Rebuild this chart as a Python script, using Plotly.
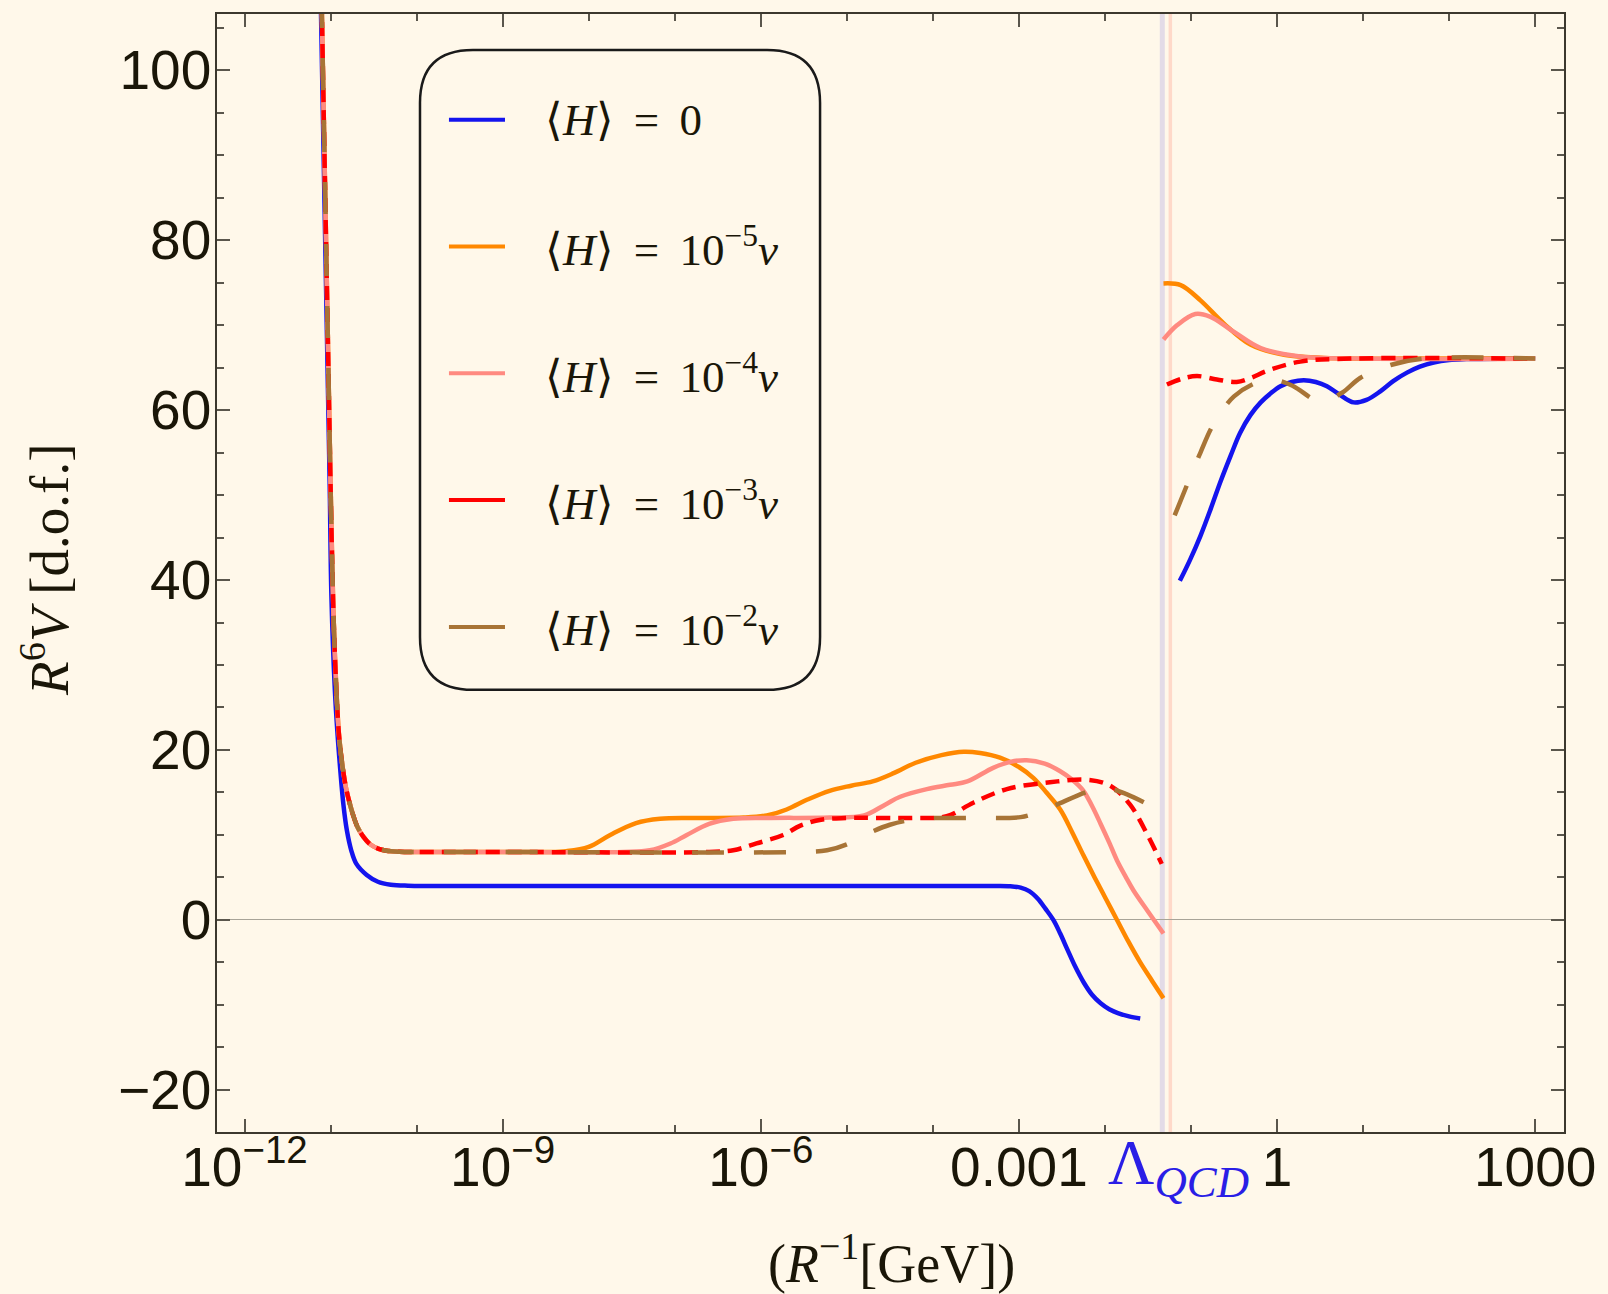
import numpy as np
import plotly.graph_objects as go

# ---------------- data (x given as log10 of R^-1 in GeV) ----------------
common_lx = [-11.12, -11.10, -11.08, -11.06, -11.04, -11.02, -11.00, -10.98, -10.96, -10.93,
             -10.90, -10.86, -10.82, -10.78, -10.74, -10.69, -10.62, -10.54, -10.45, -10.35,
             -10.20, -10.00]
common_y = [116, 106, 95, 84, 73, 62, 51, 41.5, 34, 26.5,
            21.5, 18.0, 15.5, 13.8, 12.4, 11.0, 9.8, 8.9, 8.4, 8.15,
            8.03, 8.0]

blue_lx = [-11.13, -11.11, -11.09, -11.07, -11.05, -11.03, -11.01, -10.99, -10.95, -10.92,
           -10.89, -10.85, -10.81, -10.76, -10.70, -10.58, -10.45, -10.30, -10.10, -9.0,
           -6.0, -4.0, -3.3, -3.1, -2.98, -2.88, -2.78, -2.69, -2.60, -2.52, -2.44, -2.35,
           -2.25, -2.15, -2.05, -1.95, -1.85, -1.72, -1.59]
blue_y = [116, 106, 95, 84, 73, 62, 51, 38, 27, 22,
          18.0, 13.5, 10.5, 8.2, 6.6, 5.3, 4.5, 4.15, 4.03, 4.0,
          4.0, 4.0, 4.0, 3.97, 3.8, 3.4, 2.5, 1.3, 0.0, -1.6, -3.4, -5.4,
          -7.3, -8.8, -9.8, -10.5, -10.95, -11.35, -11.6]
blue_hi_lx = [-1.13, -1.01, -0.89, -0.77, -0.66, -0.54, -0.43, -0.31, -0.19, -0.07, 0.04,
              0.17, 0.31, 0.45, 0.58, 0.73, 0.89, 1.04, 1.20, 1.35, 1.51, 1.66, 1.82, 2.0,
              2.20, 2.6, 3.0]
blue_hi_y = [39.9, 42.4, 45.2, 48.4, 51.5, 54.6, 57.3, 59.4, 60.9, 62.0, 62.8,
             63.3, 63.5, 63.3, 62.8, 61.8, 60.9, 61.2, 62.2, 63.4, 64.4, 65.1, 65.6, 65.9,
             66.0, 66.05, 66.05]

orange_lx = [-9.0, -8.5, -8.26, -8.0, -7.75, -7.45, -7.17, -6.8, -6.2, -5.93, -5.7, -5.45, -5.2,
             -4.95, -4.7, -4.45, -4.2, -3.9, -3.64, -3.45, -3.22, -3.0, -2.83, -2.68, -2.52,
             -2.38, -2.25, -2.12, -1.99, -1.86, -1.73, -1.59, -1.45, -1.32]
orange_y = [8.0, 8.0, 8.1, 8.6, 10.0, 11.4, 11.9, 12.0, 12.05, 12.3, 13.0, 14.2, 15.2,
            15.8, 16.3, 17.3, 18.5, 19.4, 19.8, 19.65, 19.1, 18.0, 16.7, 15.0, 13.0,
            10.3, 7.6, 5.0, 2.5, 0.0, -2.5, -5.0, -7.2, -9.2]
orange_hi_lx = [-1.32, -1.12, -0.89, -0.62, -0.31, 0.08, 0.66, 1.5, 3.0]
orange_hi_y = [74.9, 74.7, 72.9, 70.2, 67.7, 66.5, 66.1, 66.05, 66.05]

pink_lx = [-9.0, -7.6, -7.29, -7.05, -6.86, -6.6, -6.32, -5.9, -5.2, -4.8, -4.55, -4.38, -4.07,
           -3.8, -3.6, -3.3, -3.1, -2.91, -2.7, -2.52, -2.38, -2.25, -2.15, -2.05, -1.95,
           -1.86, -1.76, -1.67, -1.5, -1.32]
pink_y = [8.0, 8.0, 8.2, 9.0, 10.0, 11.3, 11.9, 12.0, 12.05, 12.3, 13.6, 14.5, 15.4,
          15.9, 16.3, 17.9, 18.6, 18.8, 18.4, 17.5, 16.5, 15.2, 13.4, 11.3, 9.1,
          7.0, 5.1, 3.5, 1.0, -1.6]
pink_hi_lx = [-1.32, -1.16, -0.95, -0.78, -0.50, -0.19, 0.27, 1.0, 3.0]
pink_hi_y = [68.3, 70.0, 71.3, 71.0, 69.2, 67.3, 66.3, 66.05, 66.05]

red_lx = [-9.0, -6.6, -6.32, -6.05, -5.74, -5.54, -5.3, -5.0, -4.2, -3.84, -3.53, -3.14, -2.64,
          -2.21, -1.94, -1.71, -1.51, -1.34]
red_y = [8.0, 8.0, 8.2, 9.0, 10.0, 11.1, 11.8, 12.0, 12.0, 12.2, 13.8, 15.4, 16.2,
         16.5, 15.8, 13.6, 10.1, 6.6]
red_hi_lx = [-1.28, -1.10, -0.93, -0.70, -0.47, -0.30, -0.12, 0.27, 0.85, 3.0]
red_hi_y = [63.0, 63.7, 64.0, 63.6, 63.3, 63.8, 64.6, 65.7, 66.05, 66.05]

brown_lx = [-9.0, -5.6, -5.23, -5.0, -4.85, -4.5, -4.15, -3.6, -2.98, -2.8, -2.6, -2.17, -1.98,
            -1.75, -1.41]
brown_y = [8.0, 8.0, 8.2, 8.9, 9.7, 11.2, 11.9, 12.0, 12.1, 12.6, 13.4, 15.2, 15.5, 14.8, 13.1]
brown_hi_lx = [-1.19, -1.05, -0.89, -0.74, -0.50, -0.19, 0.0, 0.19, 0.50, 0.75, 0.97, 1.32, 1.70, 3.0]
brown_hi_y = [47.6, 51.1, 55.0, 58.3, 61.6, 63.4, 63.5, 62.8, 61.0, 62.0, 63.8, 65.3, 66.05, 66.05]

lambda_lines = [0.0464, 0.0575]          # GeV, the two Lambda_QCD markers
lambda_colors = ["rgba(175,165,225,0.35)", "rgba(255,160,140,0.35)"]
lambda_widths = [5, 3.5]

names = ["⟨<i>H</i>⟩ = 0", "⟨<i>H</i>⟩ = 10<sup>−5</sup><i>v</i>",
         "⟨<i>H</i>⟩ = 10<sup>−4</sup><i>v</i>", "⟨<i>H</i>⟩ = 10<sup>−3</sup><i>v</i>",
         "⟨<i>H</i>⟩ = 10<sup>−2</sup><i>v</i>"]
colors = ["#1414ee", "#ff8800", "#ff8a80", "#ff0000", "#a87436"]
dashes = ["solid", "solid", "solid", "14px,8px", "32px,30px"]

x_tickvals = [1e-12, 1e-9, 1e-6, 1e-3, 1, 1000]
x_ticktext = ["10<sup>−12</sup>", "10<sup>−9</sup>", "10<sup>−6</sup>", "0.001", "1", "1000"]
x_minor = [10.0 ** k for k in range(-12, 4)]
y_tickvals = [-20, 0, 20, 40, 60, 80, 100]

BG = "#fff8ea"

# ---------------- build series ----------------
def seg(lx_lo, y_lo, lx_hi, y_hi):
    x = list(np.power(10.0, lx_lo)) + [None] + list(np.power(10.0, lx_hi))
    y = list(y_lo) + [None] + list(y_hi)
    return x, y

series = [
    seg(blue_lx, blue_y, blue_hi_lx, blue_hi_y),
    seg(common_lx + orange_lx, common_y + orange_y, orange_hi_lx, orange_hi_y),
    seg(common_lx + pink_lx, common_y + pink_y, pink_hi_lx, pink_hi_y),
    seg(common_lx + red_lx, common_y + red_y, red_hi_lx, red_hi_y),
    seg(common_lx + brown_lx, common_y + brown_y, brown_hi_lx, brown_hi_y),
]

fig = go.Figure()
for (x, y), name, c, d in zip(series, names, colors, dashes):
    fig.add_trace(go.Scatter(x=x, y=y, mode="lines", name=name, showlegend=False,
                             connectgaps=False,
                             line=dict(color=c, width=4.5, dash=d, shape="spline", smoothing=1.0)))

for v, c, w in zip(lambda_lines, lambda_colors, lambda_widths):
    fig.add_shape(type="line", xref="x", yref="paper", x0=v, x1=v, y0=0, y1=1,
                  line=dict(color=c, width=w), layer="below")

# ---------------- manual legend (rounded box) ----------------
bx0, bx1, by0, by1 = 0.1507, 0.4477, 0.3955, 0.9679
rx, ry = 0.0393, 0.0473
path = (f"M {bx0+rx},{by0} L {bx1-rx},{by0} Q {bx1},{by0} {bx1},{by0+ry} "
        f"L {bx1},{by1-ry} Q {bx1},{by1} {bx1-rx},{by1} L {bx0+rx},{by1} "
        f"Q {bx0},{by1} {bx0},{by1-ry} L {bx0},{by0+ry} Q {bx0},{by0} {bx0+rx},{by0} Z")
fig.add_shape(type="path", xref="paper", yref="paper", path=path,
              line=dict(color="#1a1a1a", width=2.5), fillcolor="rgba(0,0,0,0)", layer="above")

ly_top, ly_step = 0.9054, 0.1134
for i, (name, c) in enumerate(zip(names, colors)):
    yy = ly_top - i * ly_step
    fig.add_shape(type="line", xref="paper", yref="paper", x0=0.1722, x1=0.2138, y0=yy, y1=yy,
                  line=dict(color=c, width=4), layer="above")
    fig.add_annotation(xref="paper", yref="paper", x=0.2420, y=yy, xanchor="left", yanchor="middle",
                       text=name.replace(" = ", " \u2009= \u2009"), showarrow=False,
                       font=dict(family="Liberation Serif", size=45, color="#1a1608"))

# ---------------- titles / labels ----------------
fig.add_annotation(xref="paper", yref="paper", x=-0.127, y=0.5027, textangle=-90,
                   xanchor="center", yanchor="middle", showarrow=False,
                   text="<i>R</i><sup>6</sup><i>V</i> [d.o.f.]",
                   font=dict(family="Liberation Serif", size=55, color="#1a1608"))
fig.add_annotation(xref="paper", yref="paper", x=0.5004, y=-0.1455,
                   xanchor="center", yanchor="bottom", showarrow=False, borderpad=0,
                   text="(<i>R</i><sup>−1</sup>[GeV])",
                   font=dict(family="Liberation Serif", size=54, color="#1a1608"))
fig.add_annotation(xref="x", yref="paper", x=-1.14, y=-0.031,
                   xanchor="center", yanchor="middle", showarrow=False,
                   text="Λ<sub><i>QCD</i></sub>",
                   font=dict(family="Liberation Serif", size=64, color="#2a1ee6"))

axis_common = dict(showline=True, linecolor="#3c382e", linewidth=1.5, mirror="ticks",
                   ticks="inside", tickcolor="#5a564c", tickwidth=1.5, ticklen=13,
                   showgrid=False,
                   tickfont=dict(family="Liberation Sans", size=55, color="#1a1608"))

fig.update_xaxes(type="log", range=[-12.32, 3.335], tickmode="array",
                 tickvals=x_tickvals, ticktext=x_ticktext, zeroline=False,
                 minor=dict(tickmode="array", tickvals=x_minor, ticks="inside", ticklen=7,
                            tickcolor="#5a564c", tickwidth=1.5, showgrid=False),
                 **axis_common)
fig.update_yaxes(range=[-24.95, 106.6], tickmode="array", tickvals=y_tickvals,
                 zeroline=True, zerolinecolor="#a8a498", zerolinewidth=1.3,
                 minor=dict(dtick=5, ticks="inside", ticklen=7, tickcolor="#5a564c",
                            tickwidth=1.5, showgrid=False),
                 **axis_common)
try:
    fig.update_xaxes(ticklabelstandoff=-14)
    fig.update_yaxes(ticklabelstandoff=-7)
except Exception:
    fig.update_xaxes(ticklabelstandoff=0)
    fig.update_yaxes(ticklabelstandoff=0)

fig.update_layout(width=1608, height=1294, margin=dict(l=217, r=44, t=12, b=162),
                  paper_bgcolor=BG, plot_bgcolor=BG, showlegend=False)

fig.write_html("out.html")
